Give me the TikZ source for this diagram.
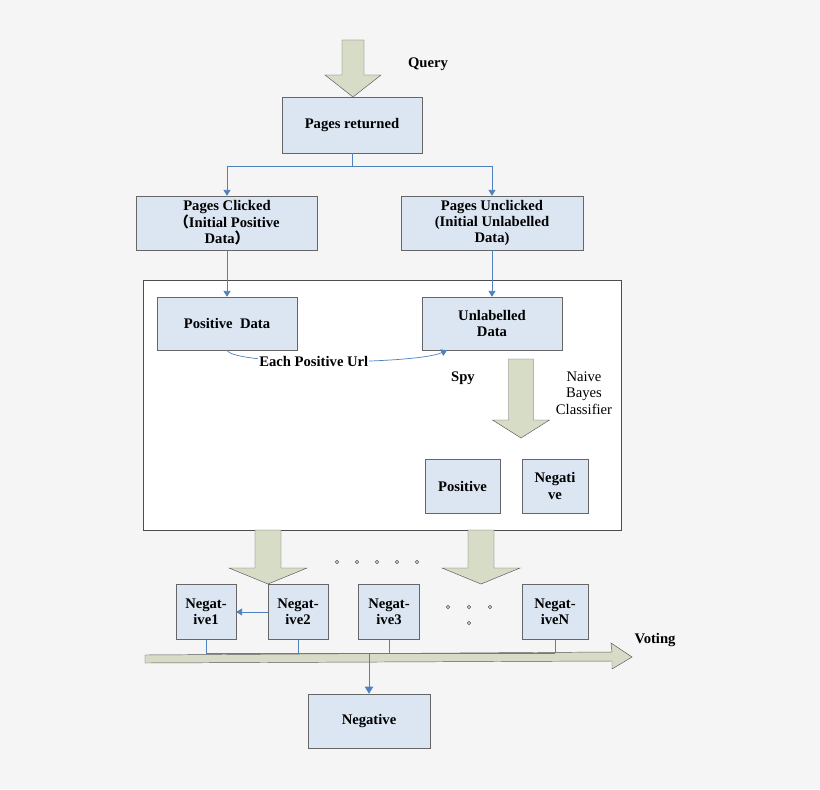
\documentclass[tikz,border=0pt]{standalone}
\usepackage{fontspec}
\setmainfont{Liberation Serif}
\newfontfamily\cjk{Noto Sans CJK SC}
\usetikzlibrary{positioning,arrows.meta}
\definecolor{boxfill}{HTML}{DCE6F2}
\definecolor{fatfill}{HTML}{D7DCC6}
\definecolor{link}{HTML}{4F81BD}
\tikzset{
  box/.style={draw=gray!80!black, fill=boxfill, align=center, font=\bfseries\fontsize{12.5}{14}\selectfont, inner sep=1pt},
  link/.style={draw=link, semithick},
  fat/.style={draw=gray!70!black, fill=fatfill},
  lbl/.style={font=\bfseries\fontsize{12.5}{14}\selectfont, align=center},
}
% fat arrow: x centre, top, head base, tip, shaft half width, head half width
\newcommand\fatarrow[6]{%
  \draw[fat] (#1-#5,#2) -- (#1+#5,#2) -- (#1+#5,#3) -- (#1+#6,#3) -- (#1,#4)
    -- (#1-#6,#3) -- (#1-#5,#3) -- cycle;}
\begin{document}
\begin{tikzpicture}[x=0.03cm,y=-0.03cm]
  \fill[gray!8] (0,0) rectangle (820,789);
  \useasboundingbox (0,0) rectangle (820,789);

  % query
  \fatarrow{353}{40}{75}{97}{11}{28}
  \node[lbl] (query) at (428,64) {Query};
  \node[box, minimum width=140*0.03cm, minimum height=56*0.03cm] (ret) at (352,125) {Pages returned};
  \node[box, minimum width=181*0.03cm, minimum height=54*0.03cm] (click) at (227,223) {Pages Clicked\\{\cjk （}Initial Positive\\Data{\cjk ）}};
  \node[box, minimum width=182*0.03cm, minimum height=54*0.03cm] (unclick) at (492,223) {Pages Unclicked\\(Initial Unlabelled\\Data)};
  \draw[link] (ret.south) -- ++(0,13) coordinate (split);
  \draw[link,-{Triangle[width=6pt,length=5pt]}] (split) -| (click.north);
  \draw[link,-{Triangle[width=6pt,length=5pt]}] (split) -| (unclick.north);

  % spy frame
  \draw[gray!60!black, fill=white] (143,280) rectangle (621,530);
  \node[box, minimum width=140*0.03cm, minimum height=53*0.03cm] (pos) at (227,323.5) {Positive~ Data};
  \node[box, minimum width=140*0.03cm, minimum height=53*0.03cm] (unl) at (492,323.5) {Unlabelled\\Data};
  \draw[link,-{Triangle[width=6pt,length=5pt]}] (click.south) -- (pos.north);
  \draw[link,-{Triangle[width=6pt,length=5pt]}] (unclick.south) -- (unl.north);
  \draw[link,-{Triangle[width=6pt,length=5pt]}] (pos.south) .. controls +(8,16) and +(-30,14) .. node[lbl, fill=white, inner sep=1pt, pos=0.45] {Each Positive Url} ([xshift=-45*0.03cm]unl.south);
  \node[lbl] (spy) at (463,378) {Spy};
  \fatarrow{521}{359}{420}{438}{12.5}{28.5}
  \node[align=center, font=\fontsize{12.5}{14}\selectfont] (nbc) at (584,393) {Naive\\Bayes\\Classifier};
  \node[box, minimum width=75*0.03cm, minimum height=54*0.03cm] (ppos) at (462.5,486) {Positive};
  \node[box, minimum width=66*0.03cm, minimum height=54*0.03cm] (pneg) at (555,486) {Negati\\ve};

  % negatives
  \fatarrow{268}{530}{568}{584}{13}{39}
  \fatarrow{481}{530}{568}{584}{13}{39}
  \foreach \x in {337,357,377,397,417} \draw (\x,562) circle (1.6);
  \foreach \x in {448,469,490} \draw (\x,607) circle (1.6);
  \draw (469,623) circle (1.6);
  \node[box, minimum width=60*0.03cm, minimum height=55*0.03cm] (neg1) at (206,612) {Negat-\\ive1};
  \node[box, minimum width=60*0.03cm, minimum height=55*0.03cm] (neg2) at (298,612) {Negat-\\ive2};
  \node[box, minimum width=61*0.03cm, minimum height=55*0.03cm] (neg3) at (389,612) {Negat-\\ive3};
  \node[box, minimum width=66*0.03cm, minimum height=55*0.03cm] (negN) at (555,612) {Negat-\\iveN};
  \draw[link,-{Triangle[width=6pt,length=5pt]}] (neg2.west) -- (neg1.east);

  % voting
  \draw[fat] (145,655) -- (612,652) -- (611,643) -- (632,657) -- (612,669) -- (612,661) -- (145,663) -- cycle;
  \node[lbl] (vote) at (655,640) {Voting};
  \draw[link, thin] (neg1.south) |- (555,653) coordinate (vend);
  \draw[link, thin] (neg2.south) -- ++(0,13);
  \draw[link, thin] (neg3.south) -- ++(0,13);
  \draw[link, thin] (negN.south) -- (vend);
  \node[box, minimum width=122*0.03cm, minimum height=54*0.03cm] (neg) at (369,721) {Negative};
  \draw[link, thick, -{Triangle[width=7pt,length=6pt]}] (neg.north |- vend) -- (neg.north);
\end{tikzpicture}
\end{document}
